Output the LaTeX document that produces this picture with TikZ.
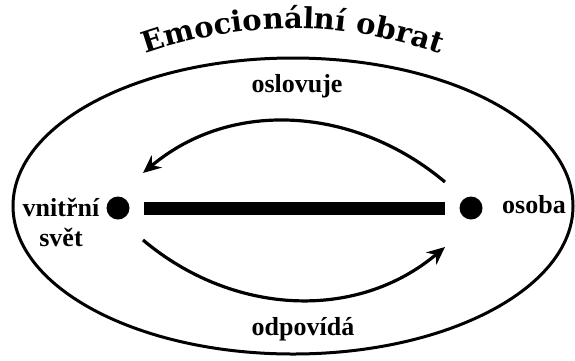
\documentclass[tikz,border=0pt]{standalone}
\usepackage{fontspec}
\setmainfont{Liberation Serif}
\newfontfamily\titlefont{DejaVu Serif}
\newfontfamily\lblfont{Liberation Serif}
\usepackage{tikz}
\usetikzlibrary{arrows.meta,decorations.text}

\begin{document}
\begin{tikzpicture}[x=1pt, y=-1pt,
  dot/.style={circle, fill, inner sep=0pt, minimum size=23pt},
  flow/.style={line width=3.2pt, -{Stealth[length=18pt, width=16pt, inset=6pt]}},
  lbl/.style={anchor=base, inner sep=0pt, font=\lblfont\bfseries\fontsize{26}{30}\selectfont}]
  \useasboundingbox (0,0) rectangle (575,360);

  \draw[line width=3pt] (293,206) ellipse [x radius=280pt, y radius=148pt];

  \node[dot] (vs) at (118,208) {};
  \node[dot] (os) at (471,208) {};
  \node[lbl, align=center, anchor=center] (vsl) at (61,222) {vnitřní\\svět};
  \node[lbl] (osl) at (534,213) {osoba};
  \node[lbl] (osv) at (297,92) {oslovuje};
  \node[lbl] (odp) at (303,335) {odpovídá};

  \draw[line width=13pt, shorten <=14pt, shorten >=14pt] (vs) -- (os);

  \coordinate (os-out) at (445,182);
  \coordinate (vs-in) at (143,173);
  \coordinate (vs-out) at (143,240);
  \coordinate (os-in) at (445,247);
  \draw[flow] (os-out) .. controls (356,107) and (232,98) .. (vs-in);
  \draw[flow] (vs-out) .. controls (232,315) and (356,322) .. (os-in);

  % title along the arc
  \begin{scope}
    \path[decorate, decoration={text along path, text align=center,
        text={|\titlefont\bfseries\fontsize{29}{30}\selectfont|Emocionální obrat}}]
      (148,53) .. controls (245,20) and (341,20) .. (438,53);
  \end{scope}
\end{tikzpicture}
\end{document}
